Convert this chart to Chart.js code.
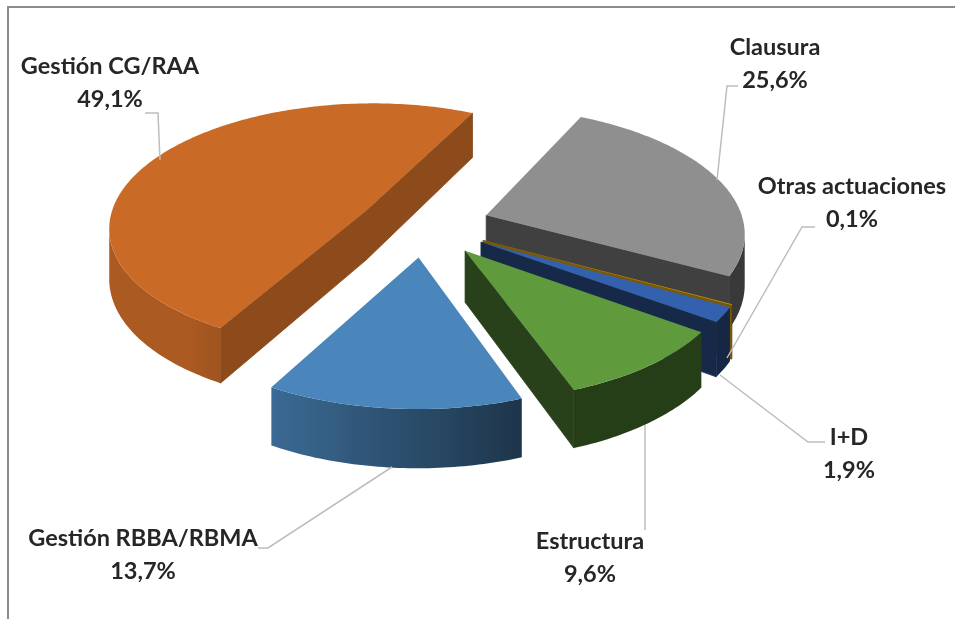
<!DOCTYPE html>
<html>
<head>
<meta charset="utf-8">
<title>Actuaciones</title>
<script src="https://cdn.jsdelivr.net/npm/chart.js"></script>
<style>
  html, body { margin: 0; padding: 0; background: #fff; }
  canvas { display: block; }
</style>
</head>
<body>
<canvas id="pieChart" width="955" height="619"></canvas>
<script>
const categories = ['Clausura', 'Otras actuaciones', 'I+D', 'Estructura', 'Gestión RBBA/RBMA', 'Gestión CG/RAA'];
const shares = [25.6, 0.1, 1.9, 9.6, 13.7, 49.1];
const topColors = ['#8f8f8f', '#c8920f', '#3461ad', '#5f9a3d', '#4a86bb', '#c96a27'];
// brightness of the flat cut faces, relative to the top colour
const cutShade = [0.45, 0.6, 0.42, 0.42, 0.45, 0.7];
// back to front
const paintOrder = [0, 1, 2, 3, 5, 4];

// label centre, then the leader polyline
const labelBoxes = [
  { x: 775, y: 47, leader: [[738, 86], [727, 86], [717, 180]] },
  { x: 852, y: 186, leader: [[815, 227], [802, 227], [727, 358]] },
  { x: 849, y: 437, leader: [[720, 375], [808, 442], [825, 442]] },
  { x: 590, y: 541, leader: [[645, 425], [645, 530]] },
  { x: 143, y: 538, leader: [[392, 467], [268, 548], [258, 548]] },
  { x: 110, y: 66, leader: [[145, 113], [158, 113], [160, 160]] }
];

// camera settings for the tilted pie
const tilt = 0.48, depth = 50, perspY = 0.124, perspX = 0;

function shadeColor(hex, f) {
  const n = parseInt(hex.slice(1), 16);
  const r = Math.round((n >> 16 & 255) * f), g = Math.round((n >> 8 & 255) * f), b = Math.round((n & 255) * f);
  return `rgb(${r},${g},${b})`;
}

const pie3d = {
  id: 'pie3d',
  // arcs are drawn here instead of the flat default
  beforeDatasetDraw(chart, args) {
    const ctx = chart.ctx;
    const arcs = args.meta.data;

    const project = (arc, px, py, z) => {
      const X = px / arc.outerRadius, Y = py / arc.outerRadius;
      const s = 1 / (1 - perspY * Y + perspX * X);
      return [arc.x + px * s, arc.y + py * tilt * s + z * depth * s];
    };
    const signedArea = pts => {
      let area = 0;
      pts.forEach((p, i) => {
        const q = pts[(i + 1) % pts.length];
        area += p[0] * q[1] - q[0] * p[1];
      });
      return area;
    };
    const fillPoly = (pts, style, seal) => {
      ctx.beginPath();
      pts.forEach((p, i) => i ? ctx.lineTo(p[0], p[1]) : ctx.moveTo(p[0], p[1]));
      ctx.closePath();
      ctx.fillStyle = style;
      ctx.fill();
      if (seal) {
        // hides the hairline where two faces meet
        ctx.strokeStyle = style;
        ctx.lineWidth = 0.8;
        ctx.stroke();
      }
    };
    const face = (a, b, c, d, style) => {
      if (signedArea([a, b, c, d]) < 0) fillPoly([a, b, c, d], style, true);
    };

    paintOrder.forEach(i => {
      const arc = arcs[i];
      const color = topColors[i];
      const mid = (arc.startAngle + arc.endAngle) / 2;
      const ox = Math.cos(mid) * arc.options.offset, oy = Math.sin(mid) * arc.options.offset;
      const steps = Math.max(2, Math.ceil((arc.endAngle - arc.startAngle) * 60));
      const apexTop = project(arc, ox, oy, 0), apexBottom = project(arc, ox, oy, 1);
      const rimTop = [], rimBottom = [], lights = [];
      for (let k = 0; k <= steps; k++) {
        const a = arc.startAngle + (arc.endAngle - arc.startAngle) * k / steps;
        const px = ox + Math.cos(a) * arc.outerRadius, py = oy + Math.sin(a) * arc.outerRadius;
        rimTop.push(project(arc, px, py, 0));
        rimBottom.push(project(arc, px, py, 1));
        lights.push(Math.min(0.85, Math.max(0.4, 0.56 - 0.475 * Math.cos(a))));
      }
      const cut = shadeColor(color, cutShade[i]);
      // the two cut faces
      face(rimTop[steps], apexTop, apexBottom, rimBottom[steps], cut);
      face(apexTop, rimTop[0], rimBottom[0], apexBottom, cut);

      // curved wall, lighter towards the left: one gradient over the part facing the viewer
      const seen = [];
      for (let k = 0; k <= steps; k++) {
        const prev = Math.max(k - 1, 0), next = Math.min(k + 1, steps);
        if (signedArea([rimTop[prev], rimTop[next], rimBottom[next], rimBottom[prev]]) < 0) seen.push(k);
      }
      if (seen.length > 1) {
        const xs = seen.map(k => rimTop[k][0]);
        const xMin = Math.min(...xs), xMax = Math.max(...xs);
        const grad = ctx.createLinearGradient(xMin, 0, xMax, 0);
        seen.forEach(k => {
          grad.addColorStop((rimTop[k][0] - xMin) / Math.max(xMax - xMin, 1), shadeColor(color, lights[k]));
        });
        fillPoly(seen.map(k => rimTop[k]).concat(seen.map(k => rimBottom[k]).reverse()), grad);
      }

      // top face
      fillPoly([apexTop].concat(rimTop), color);
    });
    return false;
  },
  afterDraw(chart) {
    const ctx = chart.ctx;
    ctx.save();
    // chart frame, top and left edges
    ctx.strokeStyle = '#8c8c8c';
    ctx.lineWidth = 2;
    ctx.beginPath();
    ctx.moveTo(8, 619);
    ctx.lineTo(8, 7);
    ctx.lineTo(955, 7);
    ctx.stroke();

    ctx.strokeStyle = '#bdbdbd';
    ctx.lineWidth = 1.5;
    labelBoxes.forEach(box => {
      ctx.beginPath();
      box.leader.forEach((p, i) => i ? ctx.lineTo(p[0], p[1]) : ctx.moveTo(p[0], p[1]));
      ctx.stroke();
    });

    ctx.fillStyle = '#262626';
    ctx.font = 'bold 23.5px Lato';
    ctx.textAlign = 'center';
    ctx.textBaseline = 'middle';
    categories.forEach((name, i) => {
      const box = labelBoxes[i];
      ctx.fillText(name, box.x, box.y);
      ctx.fillText(shares[i].toFixed(1).replace('.', ',') + '%', box.x, box.y + 33);
    });
    ctx.restore();
  }
};

new Chart(document.getElementById('pieChart'), {
  type: 'pie',
  data: {
    labels: categories,
    datasets: [{
      data: shares,
      backgroundColor: topColors,
      borderWidth: 0,
      offset: 66,
      hoverOffset: 0
    }]
  },
  options: {
    responsive: false,
    animation: false,
    rotation: 26,
    radius: 258,
    layout: { padding: { left: 0, top: 0, right: 107, bottom: 169 } },
    plugins: { legend: { display: false }, tooltip: { enabled: false } }
  },
  plugins: [pie3d]
});
</script>
</body>
</html>
